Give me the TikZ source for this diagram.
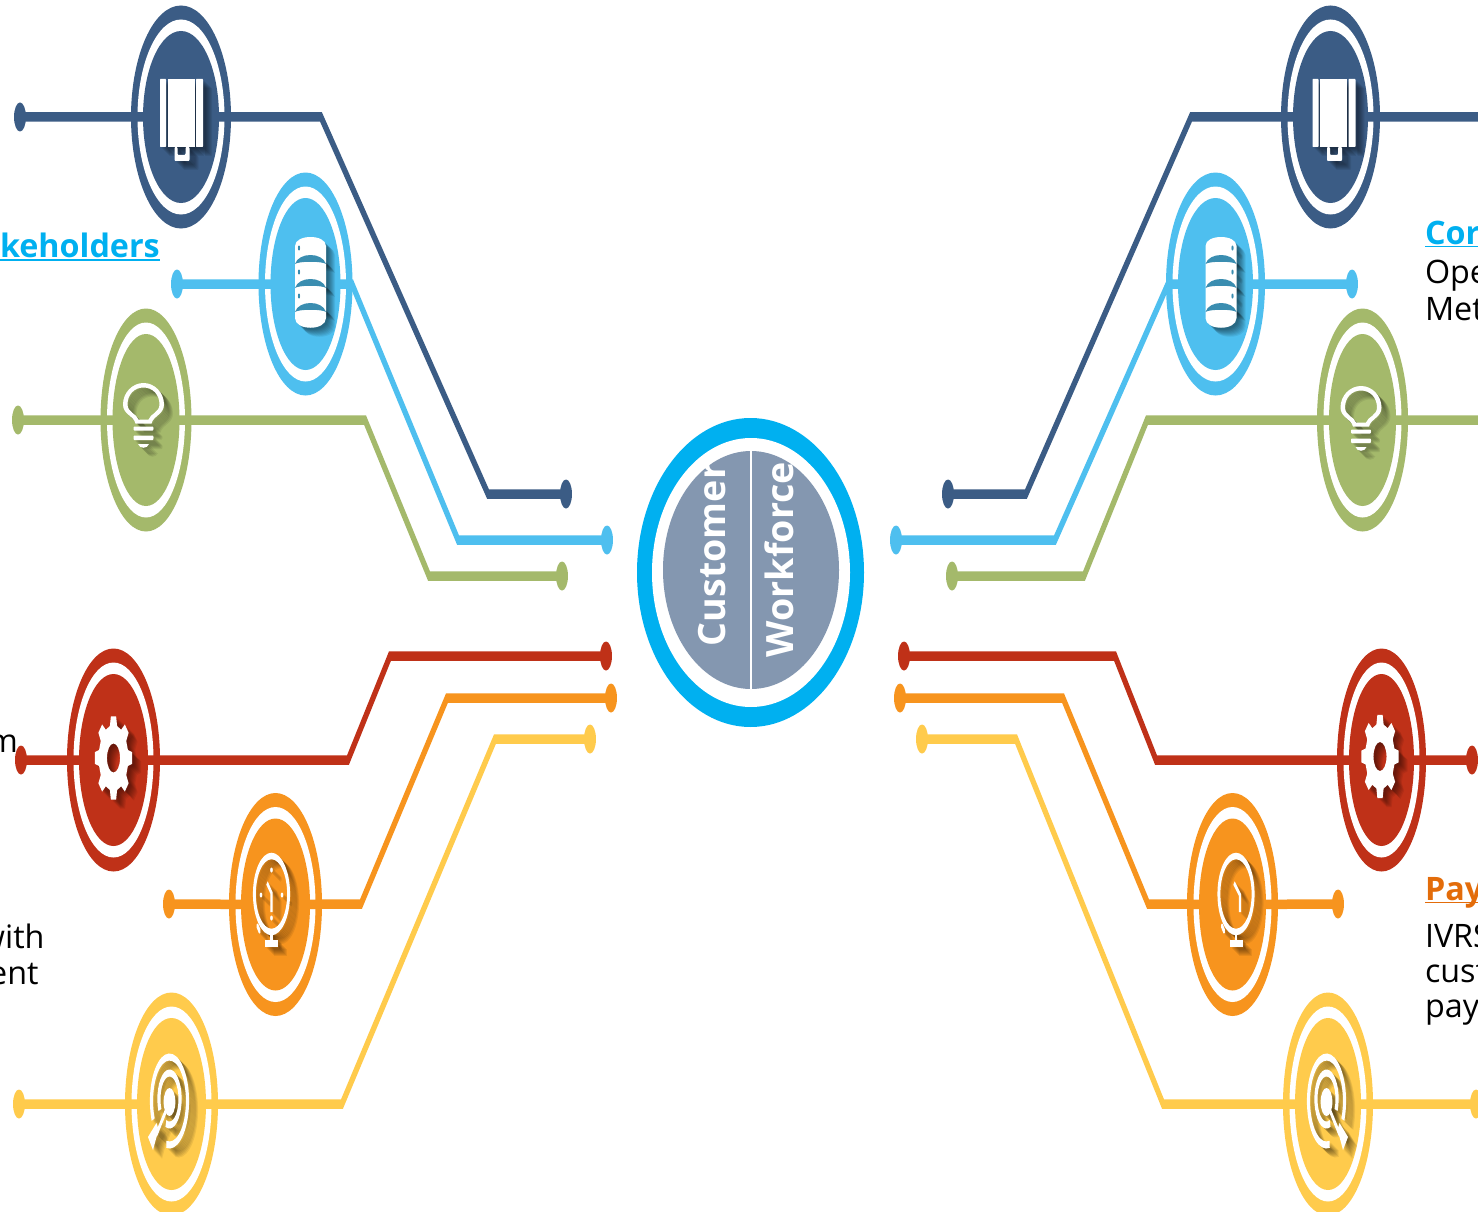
\documentclass[tikz,border=0pt]{standalone}
\usepackage{fontspec}
\setmainfont{Open Sans}
\usetikzlibrary{shapes.geometric}
\definecolor{cnavy}{HTML}{3B5C85}
\definecolor{csky}{HTML}{4EBFEF}
\definecolor{cgreen}{HTML}{A4B96B}
\definecolor{cred}{HTML}{BF3118}
\definecolor{corange}{HTML}{F7941E}
\definecolor{cyellow}{HTML}{FFCB4C}
\definecolor{ccyan}{HTML}{00B0F0}
\definecolor{ccore}{HTML}{8497B0}
\definecolor{cpay}{HTML}{E36C0A}
\definecolor{cseam}{HTML}{3A8DB0}
\colorlet{icocol}{white}
\colorlet{seamcol}{cseam}
\tikzset{
  oval/.style={ellipse,inner sep=0pt,outer sep=0pt,draw=none},
  conn/.style={line width=9.5pt,line join=miter},
  endcap/.style={oval,minimum width=26.6pt,minimum height=29pt},
  icofill/.style={fill=icocol},
  icoline/.style={draw=icocol,line width=7pt,fill=none},
  lbl/.style={anchor=base west,inner sep=0pt,outer sep=0pt,font=\fontsize{32.3}{36}\selectfont,text=black},
  lblr/.style={lbl,anchor=base east},
  ttl/.style={lbl,font=\fontsize{32.3}{36}\selectfont\bfseries},
  core/.style={anchor=base west,inner sep=0pt,outer sep=0pt,rotate=90,text=white,font=\fontsize{37.6}{40}\selectfont\bfseries},
  bookicon/.pic={
    \fill[icofill,rounded corners=1pt] (-21.5,-38) rectangle (-15.5,30);
    \fill[icofill] (-14,-38) rectangle (13,30);
    \fill[icofill,rounded corners=1pt] (14.5,-38) rectangle (21.5,30);
    \fill[icofill,rounded corners=1.5pt] (-7,30) -- (-7,44) -- (8,44) -- (8,30) -- (4,30) -- (4,38) -- (-4,38) -- (-4,30) -- cycle;
  },
  dbicon/.pic={
    \fill[icofill] (-15.5,-37) .. controls (-15.5,-49) and (15.5,-49) .. (15.5,-37) -- (15.5,35) .. controls (15.5,48) and (-15.5,48) .. (-15.5,35) -- cycle;
    \foreach \q in {-27,-3,21} {
      \fill[seamcol] (-15.5,\q+8) .. controls (-12,\q-4) and (12,\q-4) .. (15.5,\q+8) .. controls (12,\q+5) and (-12,\q+5) .. (-15.5,\q+8) -- cycle;
      \fill[seamcol] (-11.5,\q-8) circle[x radius=2.4pt,y radius=2.5pt];
    }
  },
  bulbicon/.pic={
    \fill[icofill,even odd rule] (-8,19) .. controls (-10,11) and (-20.5,10) .. (-20.5,0) .. controls (-20.5,-12) and (-11,-21.5) .. (0,-21.5) .. controls (11,-21.5) and (20.5,-12) .. (20.5,0) .. controls (20.5,10) and (10,11) .. (8,19) -- cycle
      (-5,15) .. controls (-7,9) and (-16,8) .. (-16,0) .. controls (-16,-10) and (-9,-17) .. (0,-17) .. controls (9,-17) and (16,-10) .. (16,0) .. controls (16,8) and (7,9) .. (5,15) -- cycle;
    \fill[icofill,rounded corners=2pt] (-10,22) rectangle (10,26);
    \fill[icofill,rounded corners=2pt] (-10,31) rectangle (10,35.5);
    \fill[icofill] (-5.5,39.5) -- (5.5,39.5) .. controls (4,44.5) and (-4,44.5) .. (-5.5,39.5) -- cycle;
  },
  gearicon/.pic={
    \fill[icofill,even odd rule] (-13:33pt) \foreach \a in {0,45,...,315} { -- (\a-14:33pt) -- (\a-8:42pt) -- (\a+8:42pt) -- (\a+14:33pt) } -- cycle
      (0,0) circle[radius=14.5pt];
  },
  clockbody/.pic={
    \draw[icoline,line width=6.5pt] (0,0) circle[radius=38pt];
    \fill[icofill] (-1.2,40) rectangle (1.2,46);
    \fill[icofill] (-6.5,46) rectangle (6.5,53);
    \draw[icoline,line width=5pt,line cap=round] (-14,32) -- (-12,37);
  },
  clockleft/.pic={
    \pic at (0,0) {clockbody};
    \draw[icoline,line width=4.5pt] (-4.5,-11) -- (0,-1) -- (0,18);
    \fill[icofill] (0,-24) circle[x radius=3pt,y radius=2.5pt];
    \fill[icofill] (0,24) circle[x radius=3pt,y radius=2.5pt];
    \fill[icofill] (-10.5,1) circle[x radius=3pt,y radius=2.5pt];
    \fill[icofill] (10.5,1) circle[x radius=3pt,y radius=2.5pt];
  },
  clockright/.pic={
    \pic at (0,0) {clockbody};
    \draw[icoline,line width=4.5pt] (2,-11) -- (-4,1) -- (-4,18);
  },
  targeticon/.pic={
    \draw[icoline] (-100:40pt and 44pt) arc[start angle=-100,end angle=205,x radius=40pt,y radius=44pt];
    \draw[icoline] (0,-2) ++(-110:23.5pt and 26pt) arc[start angle=-110,end angle=205,x radius=23.5pt,y radius=26pt];
    \fill[icofill] (0,1) circle[x radius=13pt,y radius=14pt];
    \draw[icoline,line width=5pt] (0,1) -- (-13,33);
    \fill[icofill] (-21.5,36) -- (-13,22) -- (-10.5,30) -- (-13,36) -- (-16.5,49) -- cycle;
  },
}
\newcommand{\iconat}[3][]{%
  \begin{scope}[opacity=.07]
    \colorlet{icocol}{black}\colorlet{seamcol}{black}
    \foreach \s in {2,3,...,9} {
      \begin{scope}[shift={#3},shift={(\s,\s)}]
        \pic[#1] at (0,0) {#2};
      \end{scope}
    }
  \end{scope}
  \begin{scope}[shift={#3}]
    \pic[#1] at (0,0) {#2};
  \end{scope}
}
% name, cx, cy, rx, colour
\newcommand{\ringat}[5]{%
  \node[oval,fill=#5,minimum width={2*#4/0.45*1pt},minimum height=223pt] (#1) at (#2,#3) {};
  \node[oval,fill=white,minimum width={2*(#4-6.5)/0.45*1pt},minimum height=195pt] at (#2,#3) {};
  \node[oval,fill=#5,minimum width={2*(#4-12)/0.45*1pt},minimum height=172pt] at (#2,#3) {};
}
\newcommand{\ul}[2]{\vtop{\hbox{\smash{\textcolor{#2}{#1}}}\kern 1.5pt\hrule height 1.8pt}}
\begin{document}
\begin{tikzpicture}[x=1pt,y=-1pt]
\useasboundingbox (0,0) rectangle (1478,1212);
\fill[white] (0,0) rectangle (1478,1212);
\clip (0,0) rectangle (1478,1212);
\begin{scope}[transform canvas={xscale=0.45},x=2.22222pt,y=-1pt]
  % rings
  \ringat{ringLa}{181}{117}{50}{cnavy}
  \ringat{ringLb}{305.5}{284}{47}{csky}
  \ringat{ringLc}{146}{420}{45.5}{cgreen}
  \ringat{ringLd}{113.5}{760}{46.5}{cred}
  \ringat{ringLe}{275.5}{904.5}{46.5}{corange}
  \ringat{ringLf}{171.5}{1104}{46.5}{cyellow}
  \ringat{ringRa}{1330.5}{117}{49.5}{cnavy}
  \ringat{ringRb}{1215.5}{284}{49.5}{csky}
  \ringat{ringRc}{1362.5}{420}{45.5}{cgreen}
  \ringat{ringRd}{1381.5}{760}{44.5}{cred}
  \ringat{ringRe}{1232.5}{904.5}{45.5}{corange}
  \ringat{ringRf}{1328}{1104}{45}{cyellow}
  % end caps
  \node[endcap,fill=cnavy] (dLa) at (20,117) {};
  \node[endcap,fill=cnavy] (eLa) at (566,494) {};
  \node[endcap,fill=csky] (dLb) at (177,284) {};
  \node[endcap,fill=csky] (eLb) at (607,540) {};
  \node[endcap,fill=cgreen] (dLc) at (18,420) {};
  \node[endcap,fill=cgreen] (eLc) at (562,576) {};
  \node[endcap,fill=cred] (dLd) at (21,760) {};
  \node[endcap,fill=cred] (eLd) at (606,656) {};
  \node[endcap,fill=corange] (dLe) at (169,904) {};
  \node[endcap,fill=corange] (eLe) at (611,698) {};
  \node[endcap,fill=cyellow] (dLf) at (19,1104) {};
  \node[endcap,fill=cyellow] (eLf) at (590,739) {};
  \node[endcap,fill=cnavy] (eRa) at (948,494) {};
  \node[endcap,fill=csky] (eRb) at (896,540) {};
  \node[endcap,fill=csky] (dRb) at (1352,284) {};
  \node[endcap,fill=cgreen] (eRc) at (952,576) {};
  \node[endcap,fill=cred] (eRd) at (904,656) {};
  \node[endcap,fill=cred] (dRd) at (1472,760) {};
  \node[endcap,fill=corange] (eRe) at (900,698) {};
  \node[endcap,fill=corange] (dRe) at (1338,904) {};
  \node[endcap,fill=cyellow] (eRf) at (922,739) {};
  \node[endcap,fill=cyellow] (dRf) at (1476,1104) {};
  \coordinate (dRa) at (1495,117);
  \coordinate (dRc) at (1495,420);
  % bends
  \coordinate (bLa1) at (321,117); \coordinate (bLa2) at (488,494);
  \coordinate (bLb1) at (352,284); \coordinate (bLb2) at (458,540);
  \coordinate (bLc1) at (365,420); \coordinate (bLc2) at (429,576);
  \coordinate (bLd1) at (348,760); \coordinate (bLd2) at (390,656);
  \coordinate (bLe1) at (361,904); \coordinate (bLe2) at (447,698);
  \coordinate (bLf1) at (342,1104); \coordinate (bLf2) at (495,739);
  \coordinate (bRa1) at (1191,117); \coordinate (bRa2) at (1026,494);
  \coordinate (bRb1) at (1168,284); \coordinate (bRb2) at (1055,540);
  \coordinate (bRc1) at (1147,420); \coordinate (bRc2) at (1084,576);
  \coordinate (bRd1) at (1156,760); \coordinate (bRd2) at (1115,656);
  \coordinate (bRe1) at (1148,904); \coordinate (bRe2) at (1063,698);
  \coordinate (bRf1) at (1163,1104); \coordinate (bRf2) at (1016,739);
  % connectors
  \draw[conn,cnavy] (dLa.center) -- (ringLa.center) -- (bLa1) -- (bLa2) -- (eLa.center);
  \draw[conn,csky] (dLb.center) -- (ringLb.center) -- (bLb1) -- (bLb2) -- (eLb.center);
  \draw[conn,cgreen] (dLc.center) -- (ringLc.center) -- (bLc1) -- (bLc2) -- (eLc.center);
  \draw[conn,cred] (dLd.center) -- (ringLd.center) -- (bLd1) -- (bLd2) -- (eLd.center);
  \draw[conn,corange] (dLe.center) -- (ringLe.center) -- (bLe1) -- (bLe2) -- (eLe.center);
  \draw[conn,cyellow] (dLf.center) -- (ringLf.center) -- (bLf1) -- (bLf2) -- (eLf.center);
  \draw[conn,cnavy] (dRa) -- (ringRa.center) -- (bRa1) -- (bRa2) -- (eRa.center);
  \draw[conn,csky] (dRb.center) -- (ringRb.center) -- (bRb1) -- (bRb2) -- (eRb.center);
  \draw[conn,cgreen] (dRc) -- (ringRc.center) -- (bRc1) -- (bRc2) -- (eRc.center);
  \draw[conn,cred] (dRd.center) -- (ringRd.center) -- (bRd1) -- (bRd2) -- (eRd.center);
  \draw[conn,corange] (dRe.center) -- (ringRe.center) -- (bRe1) -- (bRe2) -- (eRe.center);
  \draw[conn,cyellow] (dRf.center) -- (ringRf.center) -- (bRf1) -- (bRf2) -- (eRf.center);
  % icons
  \iconat{bookicon}{(181.5,117)}
  \iconat{bookicon}{(1334,117)}
  \iconat{dbicon}{(310.5,283)}
  \iconat[xscale=-1]{dbicon}{(1221,283)}
  \iconat{bulbicon}{(143.5,404.5)}
  \iconat{bulbicon}{(1361,407.5)}
  \iconat{gearicon}{(113.5,758)}
  \iconat{gearicon}{(1380,756.5)}
  \iconat{clockleft}{(271.5,894)}
  \iconat[xscale=-1]{clockright}{(1236,894)}
  \iconat{targeticon}{(169.5,1101)}
  \iconat[xscale=-1]{targeticon}{(1326.5,1101)}
  % centre
  \node[oval,fill=ccyan,minimum width={227/0.45*1pt},minimum height=309pt] (hubouter) at (750.5,572.5) {};
  \node[oval,fill=white,minimum width={198/0.45*1pt},minimum height=269pt] (hubring) at (751,572.5) {};
  \node[oval,fill=ccore,minimum width={176/0.45*1pt},minimum height=238pt] (hubcore) at (751,570) {};
  \draw[white,line width=3pt] (hubcore.north) -- (hubcore.south);
\end{scope}
% hub text
\node[core] (custtext) at (725.5,646) {Customer};
\node[core] (worktext) at (793.5,657) {Workforce};
% labels
\node[ttl,text=ccyan] (ltitle) at (0,257.5) {\ul{keholders}{ccyan}};
\node[lblr] (lm) at (18,752) {m};
\node[lblr] (lwith) at (44.5,948) {with};
\node[lblr] (lent) at (38.5,984) {ent};
\node[ttl,text=ccyan] (rtitle) at (1425,244) {\ul{Cor}{ccyan}};
\node[lbl] (rope) at (1425,283) {Ope};
\node[lbl] (rmet) at (1425,320) {Met};
\node[ttl,text=cpay] (ptitle) at (1425,900) {\ul{Pay}{cpay}};
\node[lbl] (pivr) at (1425,947) {IVRS};
\node[lbl] (pcus) at (1425,982) {cust};
\node[lbl] (ppay) at (1425,1017) {pay};
\end{tikzpicture}
\end{document}
